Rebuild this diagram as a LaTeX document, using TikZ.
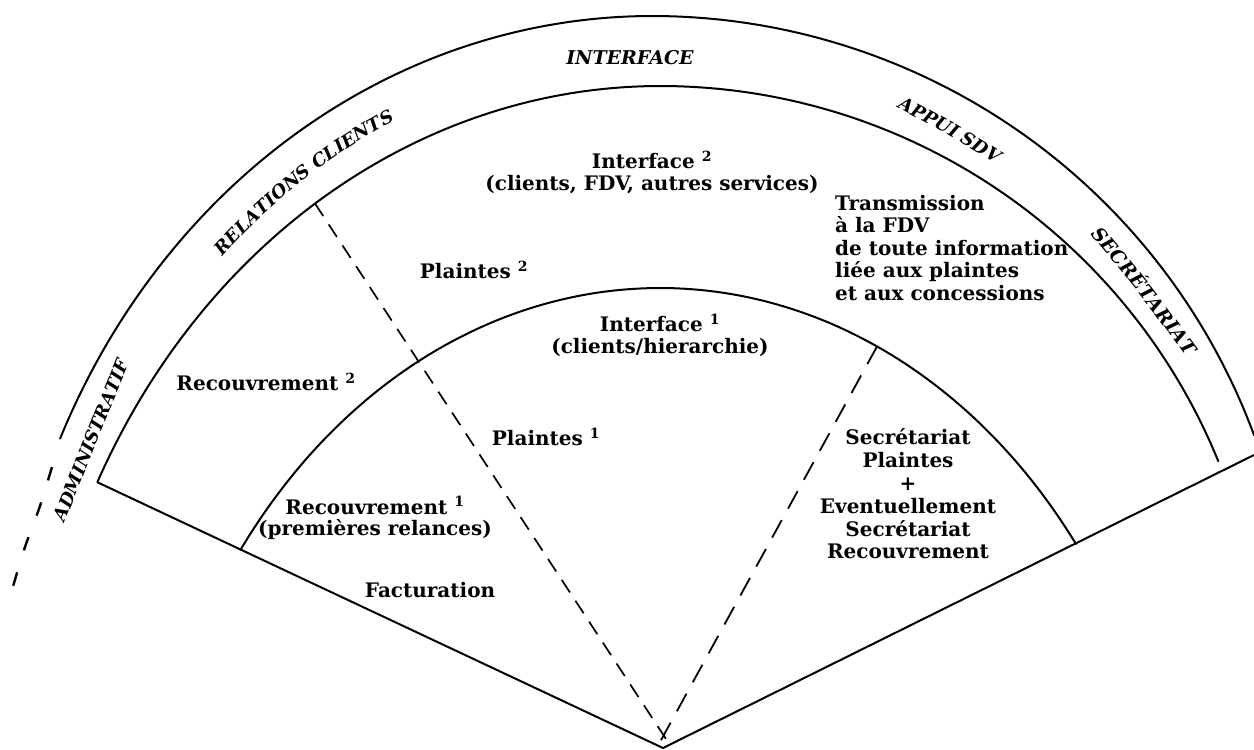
\documentclass[tikz,border=0pt]{standalone}
\usepackage{fontspec}
\setmainfont{DejaVu Serif}
\usetikzlibrary{decorations.text}
\tikzset{
  solidline/.style={line width=2pt, line join=round, line cap=round},
  dashline/.style={line width=1.7pt, dash pattern=on 15pt off 10pt},
  dashlineb/.style={line width=1.8pt, dash pattern=on 20pt off 13pt},
  extdash/.style={line width=2.4pt, dash pattern=on 14pt off 23pt},
  lbl/.style={font=\fontsize{20}{21.5}\selectfont\bfseries, align=center, inner sep=0pt},
  bandlbl/.style={font=\fontsize{19}{19}\selectfont\bfseries\itshape, inner sep=0pt},
}
\newcommand{\bandfnt}{\fontsize{18}{18}\selectfont\bfseries\itshape}
\newcommand{\bandfntb}{\fontsize{19}{19}\selectfont\bfseries\itshape}
\begin{document}
\begin{tikzpicture}[x=1pt,y=-1pt]
\useasboundingbox (0,0) rectangle (1254,750);
% key points
\coordinate (apex) at (663,748);
\coordinate (L) at (97.5,482.3);
\coordinate (R) at (1254,455);
\coordinate (dLtop) at (315,203.5);
\coordinate (dLbot) at (668,742);
\coordinate (dRtop) at (877,346.5);
\coordinate (dRbot) at (660,742);
% radial solid lines
\draw[solidline] (L) -- (apex) -- (R);
% inner arc
\draw[solidline] plot[domain=143.78:36.87, samples=120, smooth] ({660+520*cos(\x)}, {928-640*sin(\x)});
% middle arc
\draw[solidline] plot[domain=153.24:90, samples=70, smooth] ({660+630*cos(\x)}, {806-720*sin(\x)})
  -- plot[domain=90:22.2, samples=70, smooth] ({660+603*cos(\x)}, {689-603*sin(\x)});
% outer arc
\draw[solidline] plot[domain=155.6:90, samples=70, smooth] ({652+650*cos(\x)}, {736-720*sin(\x)})
  -- plot[domain=90:20.3, samples=70, smooth] ({652+642*cos(\x)}, {658-642*sin(\x)});
% outer arc dashed continuation
\draw[extdash] plot[smooth] coordinates {(52,467) (40,506) (25,547) (12,590)};
% dashed radial lines
\draw[dashline] (dLtop) -- (dLbot);
\draw[dashlineb] (dRtop) -- (dRbot);
% band labels
\node[bandlbl] (tInterface) at (630,58) {INTERFACE};
\path[decorate, decoration={text along path, text align=center,
  text={|\bandfnt|RELATIONS CLIENTS}}]
  (205,278) .. controls (263.7,204.8) and (335.3,148.2) .. (420,108);
\path[decorate, decoration={text along path, text align=center,
  text={|\bandfnt|APPUI SDV}}]
  (862,91) .. controls (920.3,117.5) and (975.7,149.1) .. (1028,186);
\path[decorate, decoration={text along path, text align=center,
  text={|\bandfntb|SECRÉTARIAT}}]
  (1067,208) .. controls (1117.6,264.2) and (1164.2,323.6) .. (1207,386);
\path[decorate, decoration={text along path, text align=center,
  text={|\bandfnt|ADMINISTRATIF}}]
  (52,555) -- (142,330);
% inner labels
\node[lbl] (tInt2) at (652,172) {Interface \textsuperscript{2}\\(clients, FDV, autres services)};
\node[lbl, font=\fontsize{20}{22.5}\selectfont\bfseries, align=left, anchor=north west] (tTrans) at (835,195)
  {Transmission\\à la FDV\\de toute information\\liée aux plaintes\\et aux concessions};
\node[lbl] (tPl2) at (474,270) {Plaintes \textsuperscript{2}};
\node[lbl] (tInt1) at (660,335) {Interface \textsuperscript{1}\\(clients/hierarchie)};
\node[lbl] (tRec2) at (266,382) {Recouvrement \textsuperscript{2}};
\node[lbl] (tPl1) at (546,437) {Plaintes \textsuperscript{1}};
\node[lbl] (tRec1) at (375,518) {Recouvrement \textsuperscript{1}\\(premières relances)};
\node[lbl] (tFact) at (430,590) {Facturation};
\node[lbl, font=\fontsize{20}{22.8}\selectfont\bfseries] (tSec) at (908,494) {Secrétariat\\Plaintes\\+\\Eventuellement\\Secrétariat\\Recouvrement};
\end{tikzpicture}
\end{document}
